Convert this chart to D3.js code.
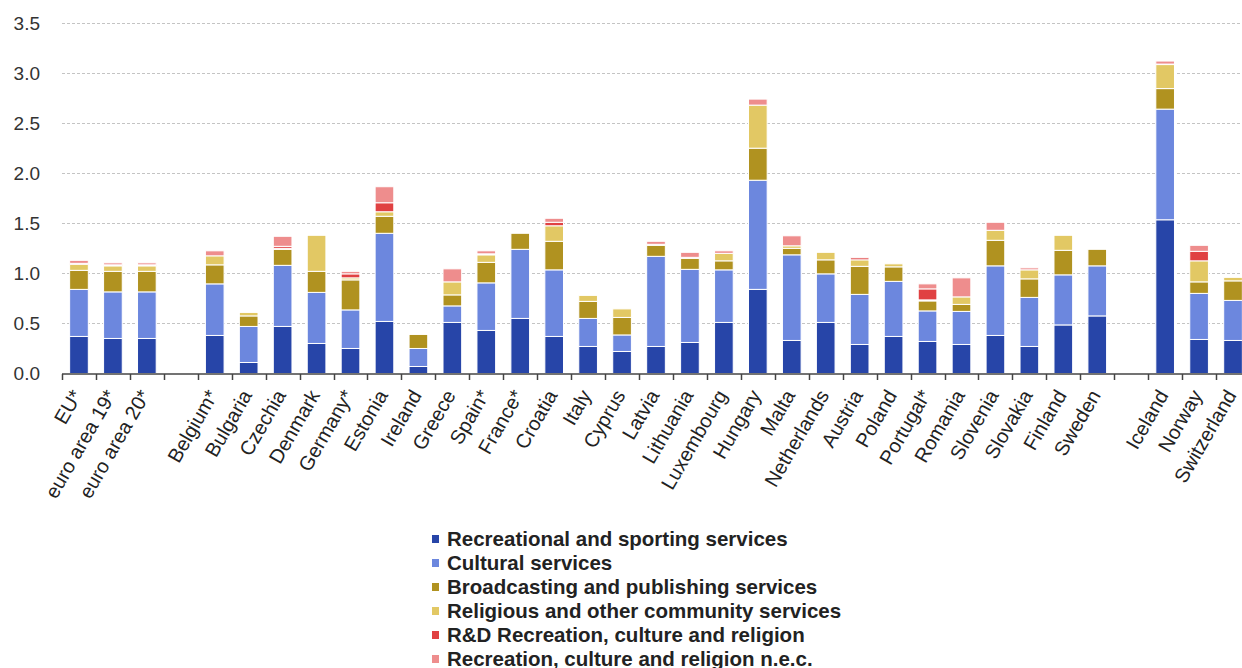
<!DOCTYPE html>
<html><head><meta charset="utf-8">
<script src="https://cdn.jsdelivr.net/npm/d3@7"></script>
<style>
html,body{margin:0;padding:0;background:#fff;}
svg{display:block;font-family:"Liberation Sans",Arial,sans-serif;}
</style></head>
<body>
<svg id="chart" width="1242" height="668"></svg>
<script>
const categories = ["EU*","euro area 19*","euro area 20*","_gap1","Belgium*","Bulgaria","Czechia","Denmark","Germany*","Estonia","Ireland","Greece","Spain*","France*","Croatia","Italy","Cyprus","Latvia","Lithuania","Luxembourg","Hungary","Malta","Netherlands","Austria","Poland","Portugal*","Romania","Slovenia","Slovakia","Finland","Sweden","_gap2","Iceland","Norway","Switzerland"];
const seriesNames = ["Recreational and sporting services","Cultural services","Broadcasting and publishing services","Religious and other community services","R&D Recreation, culture and religion","Recreation, culture and religion n.e.c."];
const recreational = [0.37,0.35,0.35,0,0.38,0.11,0.47,0.30,0.25,0.52,0.07,0.51,0.43,0.55,0.37,0.27,0.22,0.27,0.31,0.51,0.84,0.33,0.51,0.29,0.37,0.32,0.29,0.38,0.27,0.485,0.575,0,1.535,0.34,0.33];
const cultural = [0.47,0.465,0.465,0,0.515,0.36,0.61,0.51,0.385,0.88,0.18,0.165,0.475,0.69,0.665,0.28,0.165,0.90,0.73,0.525,1.09,0.855,0.485,0.50,0.55,0.305,0.33,0.695,0.49,0.50,0.50,0,1.105,0.46,0.40];
const broadcasting = [0.19,0.205,0.205,0,0.19,0.105,0.16,0.21,0.30,0.17,0.14,0.11,0.205,0.16,0.285,0.17,0.175,0.11,0.11,0.09,0.32,0.065,0.14,0.28,0.145,0.10,0.07,0.255,0.185,0.245,0.165,0,0.205,0.115,0.195];
const religious = [0.06,0.055,0.055,0,0.09,0.035,0.01,0.36,0.02,0.045,0,0.13,0.075,0,0.155,0.06,0.085,0.01,0.01,0.075,0.43,0.025,0.075,0.065,0.03,0.01,0.075,0.10,0.09,0.15,0,0,0.24,0.21,0.035];
const rd = [0.01,0.01,0.01,0,0,0,0.02,0,0.04,0.09,0,0,0.01,0,0.035,0,0,0,0,0,0,0,0,0.02,0,0.11,0,0,0,0,0,0,0.005,0.095,0];
const nec = [0.03,0.02,0.02,0,0.05,0,0.10,0,0.025,0.16,0,0.13,0.03,0,0.04,0,0,0.03,0.05,0.025,0.06,0.10,0,0,0,0.05,0.19,0.08,0.02,0,0,0,0.03,0.06,0];
const yTicks = [0,0.5,1.0,1.5,2.0,2.5,3.0,3.5];
const colors = ["#2745a8","#6c87de","#b09220","#e2c864","#e04142","#ee8d8d"];

const allSeries = [recreational,cultural,broadcasting,religious,rd,nec];
const rows = categories.map((c,i)=>{const o={cat:c}; allSeries.forEach((s,j)=>o["s"+j]=s[i]); return o;});
const keys = allSeries.map((s,j)=>"s"+j);
const stacked = d3.stack().keys(keys)(rows);

const svg = d3.select("#chart");
const x = d3.scaleBand().domain(categories).range([62,1250]).padding(0);
const y = d3.scaleLinear().domain([0,3.5]).range([373.5,23]);
const barW = x.bandwidth()*0.55;

// grid
svg.append("g").selectAll("line").data(yTicks.filter(t=>t>0)).join("line")
  .attr("x1",62).attr("x2",1242).attr("y1",d=>Math.round(y(d))+0.5).attr("y2",d=>Math.round(y(d))+0.5)
  .attr("stroke","#c4c4c4").attr("stroke-width",1).attr("stroke-dasharray","3,2");
// y labels
svg.append("g").selectAll("text").data(yTicks).join("text")
  .attr("x",40).attr("y",d=>y(d)).attr("dy","0.36em").attr("text-anchor","end")
  .attr("font-size",19).attr("fill","#333").text(d=>d.toFixed(1));

// bars
svg.append("g").selectAll("g").data(stacked).join("g").attr("fill",(d,i)=>colors[i])
  .selectAll("rect").data(d=>d.filter(p=>p[1]-p[0]>0)).join("rect")
  .attr("x",d=>x(d.data.cat)+x.bandwidth()/2-barW/2).attr("width",barW)
  .attr("y",d=>y(d[1])).attr("height",d=>y(d[0])-y(d[1]))
  .attr("stroke","#fff").attr("stroke-width",1);

// axis
const ax = svg.append("g");
ax.append("line").attr("x1",62).attr("x2",1242).attr("y1",374).attr("y2",374).attr("stroke","#444").attr("stroke-width",1.5);
const tickPos = categories.map(c=>x(c)).concat([x.range()[1]]);
ax.selectAll("line.t").data(tickPos).join("line").attr("class","t")
  .attr("x1",d=>Math.round(d)+0.5).attr("x2",d=>Math.round(d)+0.5).attr("y1",374).attr("y2",380)
  .attr("stroke","#444").attr("stroke-width",1.5);
ax.selectAll("text").data(categories.filter(c=>!c.startsWith("_gap"))).join("text")
  .attr("transform",d=>`translate(${x(d)+x.bandwidth()/2+4},395) rotate(-60)`)
  .attr("text-anchor","end").attr("font-size",20).attr("fill","#222").text(d=>d);

// legend
const lg = svg.append("g").attr("transform","translate(432,539)");
const li = lg.selectAll("g").data(seriesNames).join("g").attr("transform",(d,i)=>`translate(0,${i*24})`);
li.append("rect").attr("x",0).attr("y",-4).attr("width",7).attr("height",8).attr("fill",(d,i)=>colors[i]);
li.append("text").attr("x",15).attr("dy","0.36em").attr("font-size",20.5).attr("font-weight","bold").attr("fill","#222").text(d=>d);

// footnote (mostly cut off in reference)
svg.append("text").attr("x",2).attr("y",679).attr("font-size",15).attr("fill","#555").text("* provisional data");
</script>
</body></html>
